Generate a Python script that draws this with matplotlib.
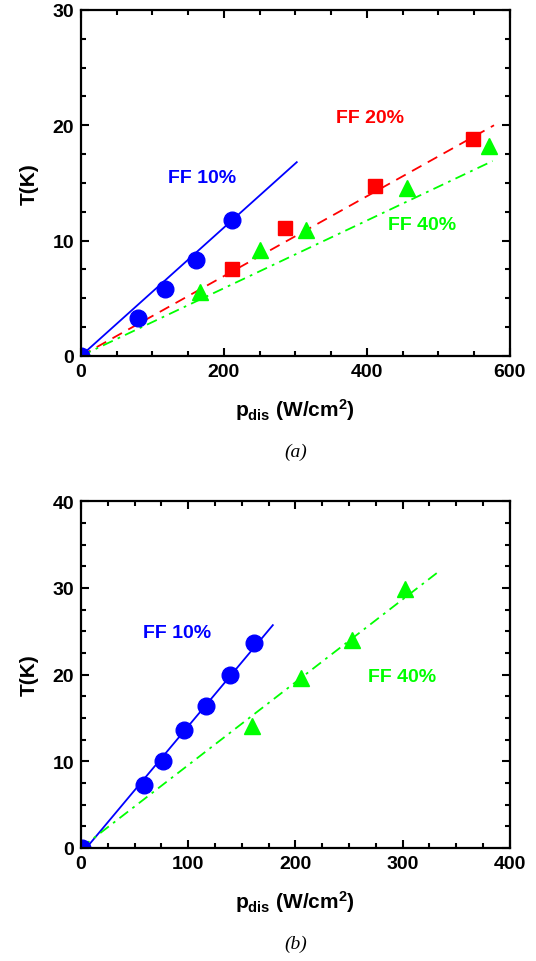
import matplotlib
matplotlib.use('Agg')
import matplotlib.pyplot as plt
from matplotlib.ticker import MultipleLocator

plt.rcParams['font.family'] = ['Liberation Sans', 'DejaVu Sans']
plt.rcParams['mathtext.fontset'] = 'custom'
plt.rcParams['mathtext.rm'] = 'Liberation Sans:bold'
plt.rcParams['mathtext.bf'] = 'Liberation Sans:bold'
plt.rcParams['mathtext.it'] = 'Liberation Sans:bold'

# painel (a)
a_ff10_x = [0, 80, 117, 161, 211]
a_ff10_y = [0, 3.3, 5.8, 8.3, 11.8]
a_ff10_fit_x = [0, 302]
a_ff10_fit_y = [0, 16.8]

a_ff20_x = [211, 285, 411, 548]
a_ff20_y = [7.5, 11.1, 14.7, 18.8]
a_ff20_fit_x = [0, 578]
a_ff20_fit_y = [0, 20.0]

a_ff40_x = [0, 166, 250, 315, 456, 571]
a_ff40_y = [0, 5.5, 9.2, 10.9, 14.6, 18.2]
a_ff40_fit_x = [0, 576]
a_ff40_fit_y = [0, 16.9]

# painel (b)
b_ff10_x = [1, 59, 77, 96, 117, 139, 161]
b_ff10_y = [0, 7.3, 10.0, 13.6, 16.4, 19.9, 23.6]
b_ff10_fit_x = [5, 179]
b_ff10_fit_y = [0, 25.7]

b_ff40_x = [160, 205, 253, 302]
b_ff40_y = [14.1, 19.6, 24.0, 29.9]
b_ff40_fit_x = [0, 335]
b_ff40_fit_y = [0, 32.0]

azul = '#0000ff'
vermelho = '#ff0000'
verde = '#00ff00'

fig = plt.figure(figsize=(5.36, 9.62), dpi=100)
ax1 = fig.add_axes([0.151, 0.629, 0.800, 0.3596])
ax2 = fig.add_axes([0.151, 0.1175, 0.800, 0.3605])


def estilo(ax, xmaj, xmin, ymaj, ymin):
    ax.xaxis.set_major_locator(MultipleLocator(xmaj))
    ax.xaxis.set_minor_locator(MultipleLocator(xmin))
    ax.yaxis.set_major_locator(MultipleLocator(ymaj))
    ax.yaxis.set_minor_locator(MultipleLocator(ymin))
    ax.tick_params(which='both', direction='in', top=True, right=True, width=1.5)
    ax.tick_params(which='major', length=6, labelsize=14, pad=5)
    ax.tick_params(which='minor', length=3.5)
    for s in ax.spines.values():
        s.set_linewidth(1.6)
    for lab in ax.get_xticklabels() + ax.get_yticklabels():
        lab.set_fontweight('bold')
    ax.set_xlabel(r'p$_{\mathbf{dis}}$ (W/cm$^{\mathbf{2}}$)', fontsize=15, fontweight='bold', labelpad=12)
    ax.set_ylabel('T(K)', fontsize=15, fontweight='bold', labelpad=10)


# (a)
ax1.plot(a_ff10_fit_x, a_ff10_fit_y, '-', color=azul, lw=1.3)
ax1.plot(a_ff20_fit_x, a_ff20_fit_y, '--', color=vermelho, lw=1.3, dashes=(6, 4))
ax1.plot(a_ff40_fit_x, a_ff40_fit_y, '-.', color=verde, lw=1.3, dashes=(6, 3, 1.5, 3))
ax1.plot(a_ff40_x, a_ff40_y, '^', color=verde, ms=11.5, ls='none')
ax1.plot(a_ff20_x, a_ff20_y, 's', color=vermelho, ms=9.5, ls='none')
ax1.plot(a_ff10_x, a_ff10_y, 'o', color=azul, ms=12, ls='none')
ax1.text(170, 15.5, 'FF 10%', color=azul, fontsize=14, fontweight='bold', ha='center', va='center')
ax1.text(404, 20.7, 'FF 20%', color=vermelho, fontsize=14, fontweight='bold', ha='center', va='center')
ax1.text(477, 11.4, 'FF 40%', color=verde, fontsize=14, fontweight='bold', ha='center', va='center')
ax1.set_xlim(0, 600)
ax1.set_ylim(0, 30)
estilo(ax1, 200, 50, 10, 2.5)

# (b)
ax2.plot(b_ff10_fit_x, b_ff10_fit_y, '-', color=azul, lw=1.3)
ax2.plot(b_ff40_fit_x, b_ff40_fit_y, '-.', color=verde, lw=1.3, dashes=(6, 3, 1.5, 3))
ax2.plot(b_ff40_x, b_ff40_y, '^', color=verde, ms=11.5, ls='none')
ax2.plot(b_ff10_x, b_ff10_y, 'o', color=azul, ms=12, ls='none')
ax2.text(90, 24.9, 'FF 10%', color=azul, fontsize=14, fontweight='bold', ha='center', va='center')
ax2.text(300, 19.8, 'FF 40%', color=verde, fontsize=14, fontweight='bold', ha='center', va='center')
ax2.set_xlim(0, 400)
ax2.set_ylim(0, 40)
estilo(ax2, 100, 25, 10, 2.5)

fig.text(0.551, 1 - 452 / 962, '(a)', fontsize=14, family='Liberation Serif', style='italic', ha='center', va='center')
fig.text(0.551, 1 - 944 / 962, '(b)', fontsize=14, family='Liberation Serif', style='italic', ha='center', va='center')

fig.savefig('out.png', dpi=100)
